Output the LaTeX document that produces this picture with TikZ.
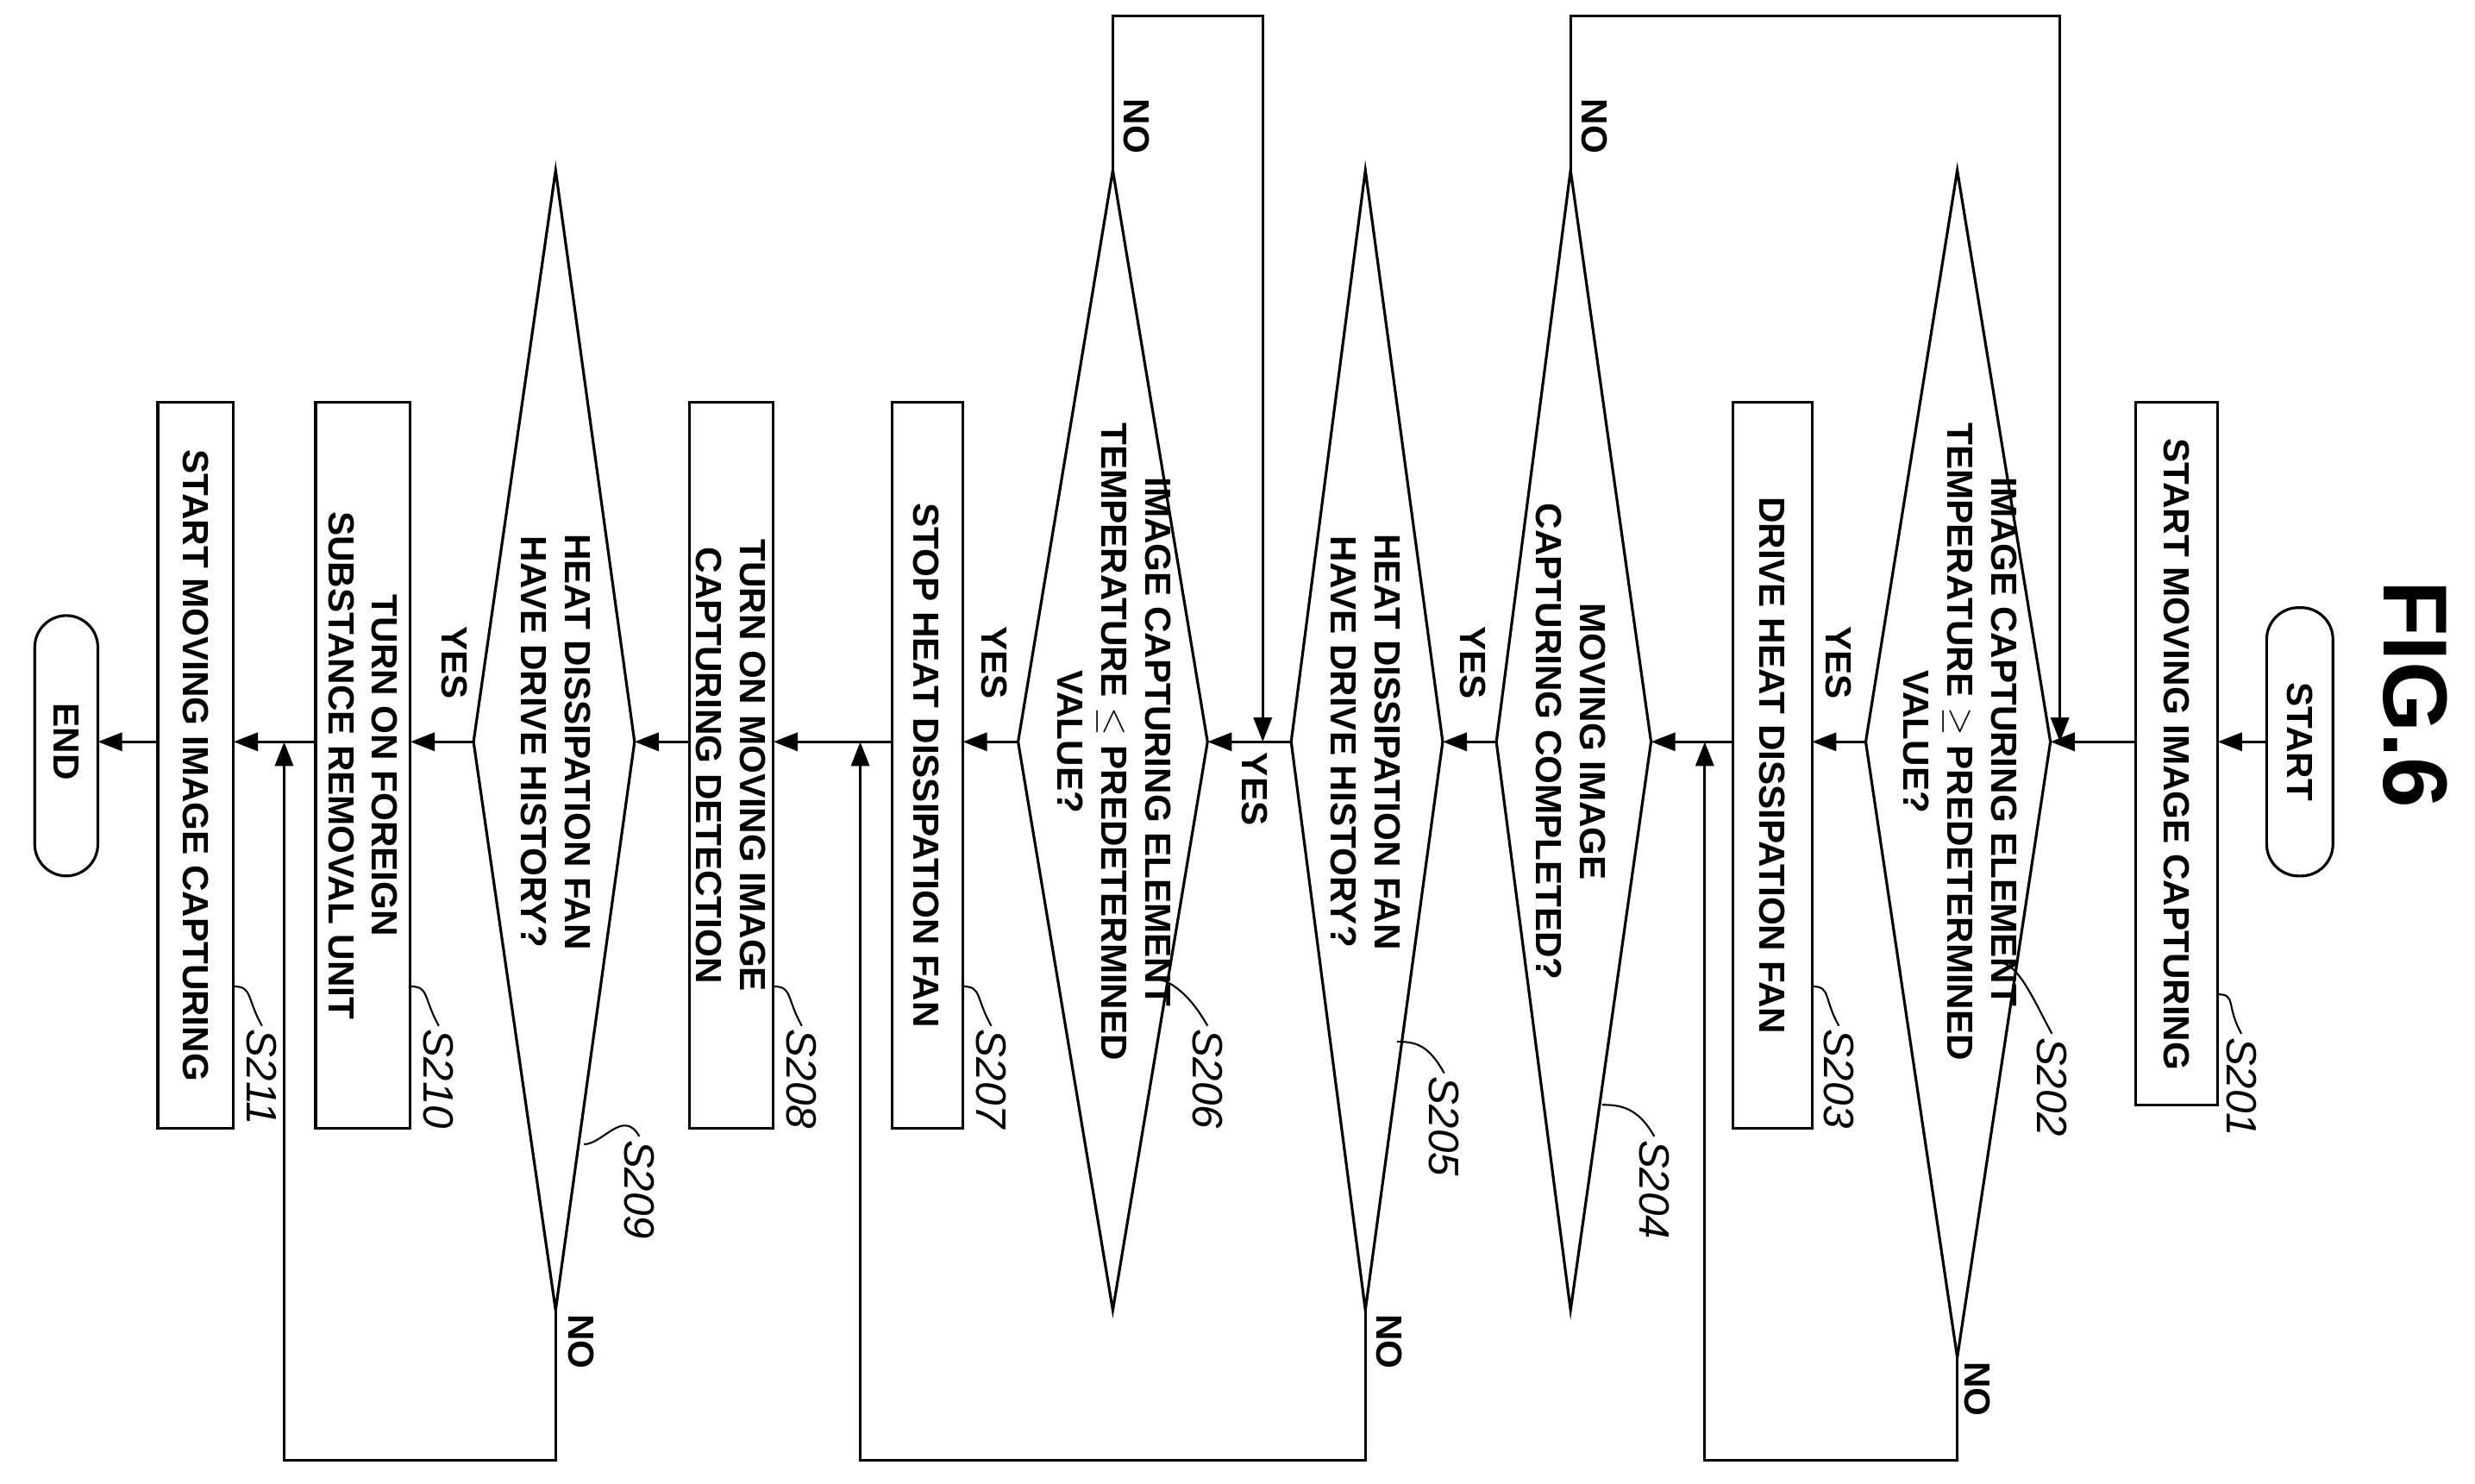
\documentclass[tikz,border=0pt]{standalone}
\usepackage{fontspec}
\setmainfont{Liberation Sans}
\usetikzlibrary{arrows.meta}
\begin{document}
\begin{tikzpicture}[x=0.018304cm,y=-0.018304cm,
  ln/.style={line width=0.9pt},
  ar/.style={ln,-{Triangle[length=8pt,width=6pt]}},
  txt/.style={rotate=-90,font=\fontsize{12}{14.5}\selectfont\bfseries,align=center,inner sep=0pt},
  lab/.style={rotate=-90,font=\fontsize{12}{14}\selectfont\bfseries,inner sep=1pt},
  stp/.style={rotate=-90,font=\fontsize{14}{14}\selectfont\itshape,anchor=west,inner sep=1pt},
  lead/.style={line width=0.6pt}]
\useasboundingbox (0,0) rectangle (1568,940);
% title
\node[rotate=-90,font=\fontsize{30}{30}\selectfont\bfseries] (fig) at (1530,440) {FIG.6};
% terminals
\draw[ln,rounded corners=10.5pt] (1436,385) rectangle (1478,555);
\node[txt] (start) at (1457,470) {START};
\draw[ln,rounded corners=10.5pt] (22,390) rectangle (62,555);
\node[txt] (end) at (42,470) {END};
\coordinate (startL) at (1436,470); \coordinate (endR) at (62,470);
% boxes
\draw[ln] (1353,255) rectangle (1405,700); \node[txt] (s201) at (1379,478) {START MOVING IMAGE CAPTURING};
\draw[ln] (1098,255) rectangle (1148,715); \node[txt] (s203) at (1123,485) {DRIVE HEAT DISSIPATION FAN};
\draw[ln] (565,255) rectangle (610,715); \node[txt] (s207) at (587,485) {STOP HEAT DISSIPATION FAN};
\draw[ln] (437,255) rectangle (490,715); \node[txt] (s208) at (463,485) {TURN ON MOVING IMAGE\\CAPTURING DETECTION};
\draw[ln] (200,255) rectangle (260,715); \node[txt] (s210) at (230,485) {TURN ON FOREIGN\\SUBSTANCE REMOVAL UNIT};
\draw[ln] (100,255) rectangle (148,715); \node[txt] (s211) at (124,485) {START MOVING IMAGE CAPTURING};
\coordinate (b201R) at (1405,470); \coordinate (b201L) at (1353,470);
\coordinate (b203R) at (1148,470); \coordinate (b203L) at (1098,470);
\coordinate (b207R) at (610,470); \coordinate (b207L) at (565,470);
\coordinate (b208R) at (490,470); \coordinate (b208L) at (437,470);
\coordinate (b210R) at (260,470); \coordinate (b210L) at (200,470);
\coordinate (b211R) at (148,470); \coordinate (b211L) at (100,470);
% diamonds
\coordinate (d202R) at (1299,470); \coordinate (d202L) at (1182,470); \coordinate (d202T) at (1240,108); \coordinate (d202B) at (1240,860);
\coordinate (d204R) at (1046,470); \coordinate (d204L) at (948,470); \coordinate (d204T) at (995,108); \coordinate (d204B) at (995,830);
\coordinate (d205R) at (914,470); \coordinate (d205L) at (818,470); \coordinate (d205T) at (865,108); \coordinate (d205B) at (865,830);
\coordinate (d206R) at (765,470); \coordinate (d206L) at (645,470); \coordinate (d206T) at (705,108); \coordinate (d206B) at (705,830);
\coordinate (d209R) at (402,470); \coordinate (d209L) at (300,470); \coordinate (d209T) at (352,108); \coordinate (d209B) at (352,830);
\foreach \d in {202,204,205,206,209}
  \draw[ln] (d\d R) -- (d\d T) -- (d\d L) -- (d\d B) -- cycle;
\node[txt] (t202) at (1242,470) {IMAGE CAPTURING ELEMENT\\TEMPERATURE $\geq$ PREDETERMINED\\VALUE?};
\node[txt] (t204) at (995,470) {MOVING IMAGE\\CAPTURING COMPLETED?};
\node[txt] (t205) at (865,470) {HEAT DISSIPATION FAN\\HAVE DRIVE HISTORY?};
\node[txt] (t206) at (706,470) {IMAGE CAPTURING ELEMENT\\TEMPERATURE $\leq$ PREDETERMINED\\VALUE?};
\node[txt] (t209) at (352,470) {HEAT DISSIPATION FAN\\HAVE DRIVE HISTORY?};
% main flow
\draw[ar] (startL) -- (b201R);
\draw[ar] (b201L) -- (d202R);
\draw[ar] (d202L) -- (b203R);
\draw[ar] (b203L) -- (d204R);
\draw[ar] (d204L) -- (d205R);
\draw[ar] (d205L) -- (d206R);
\draw[ar] (d206L) -- (b207R);
\draw[ar] (b207L) -- (b208R);
\draw[ar] (b208L) -- (d209R);
\draw[ar] (d209L) -- (b210R);
\draw[ar] (b210L) -- (b211R);
\draw[ar] (b211L) -- (endR);
% loops
\coordinate (j202) at (1305,470); \coordinate (j204) at (1080,470); \coordinate (j206) at (800,470);
\coordinate (j208) at (545,470); \coordinate (j211) at (180,470);
\draw[ar] (d202B) -- (1240,925) -- (1080,925) -- (j204);
\draw[ar] (d204T) -- (995,10) -- (1305,10) -- (j202);
\draw[ar] (d205B) -- (865,925) -- (545,925) -- (j208);
\draw[ar] (d206T) -- (705,10) -- (800,10) -- (j206);
\draw[ar] (d209B) -- (352,925) -- (180,925) -- (j211);
% yes/no labels
\node[lab] (n202) at (1253,880) {NO};
\node[lab] (y202) at (1165,420) {YES};
\node[lab] (n204) at (1010,80) {NO};
\node[lab] (y204) at (933,420) {YES};
\node[lab] (n205) at (880,850) {NO};
\node[lab] (y205) at (795,500) {YES};
\node[lab] (n206) at (720,80) {NO};
\node[lab] (y206) at (630,420) {YES};
\node[lab] (n209) at (368,850) {NO};
\node[lab] (y209) at (288,420) {YES};
% step labels
\newcommand\stepl[5]{\draw[lead] (#1,#2) .. controls (#1+12,#2) and (#3-10,#4-18) .. (#3,#4); \node[stp] at (#3,#4) {#5};}
\stepl{1405}{630}{1420}{655}{S201}
\stepl{1267}{610}{1300}{655}{S202}
\stepl{1148}{625}{1165}{650}{S203}
\stepl{1015}{700}{1048}{720}{S204}
\stepl{885}{660}{915}{680}{S205}
\stepl{730}{620}{765}{650}{S206}
\stepl{610}{625}{628}{650}{S207}
\stepl{490}{625}{508}{650}{S208}
\stepl{370}{725}{405}{720}{S209}
\stepl{260}{625}{278}{650}{S210}
\stepl{148}{625}{166}{650}{S211}
\end{tikzpicture}
\end{document}
